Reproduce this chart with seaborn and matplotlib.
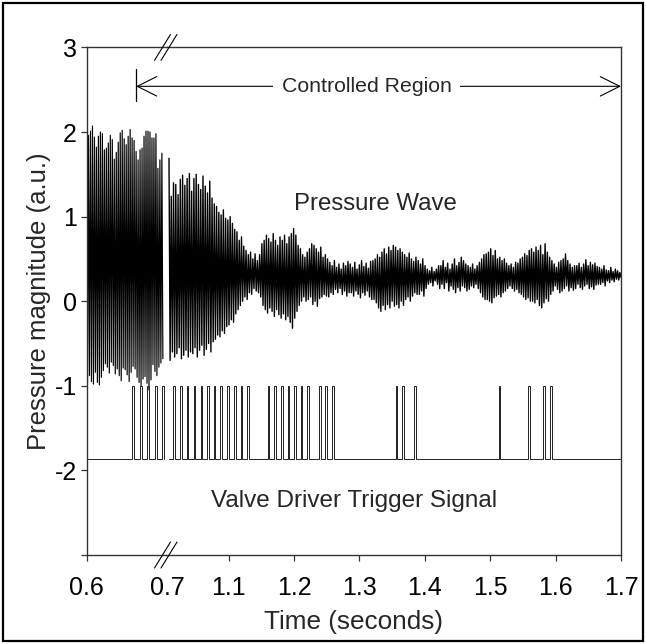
import numpy as np
import pandas as pd
import matplotlib
matplotlib.use("Agg")
import matplotlib.pyplot as plt
import seaborn as sns
from matplotlib.lines import Line2D
from matplotlib.patches import Rectangle

sns.set_theme(style="ticks")
plt.rcParams["font.family"] = ["Liberation Sans", "DejaVu Sans"]

# ---------------- data ----------------
left_time_range = (0.600, 0.695)     # seconds, before the axis break
right_time_range = (1.0087, 1.700)   # seconds, after the axis break

left_hi = [1.87, 1.96, 2.01, 2.07, 1.94, 1.82, 1.95, 2.00, 1.98, 1.79,
           1.81, 1.87, 1.96, 1.91, 1.68, 1.76, 1.88, 1.99, 2.02, 1.92,
           1.85, 1.95, 2.03, 1.93, 1.90, 1.77, 1.67, 1.79, 1.81, 1.95,
           2.01, 2.01, 2.00, 1.93, 1.93, 1.98, 1.57, 1.67, 1.75]
left_lo = [-0.97, -0.88, -0.95, -0.98, -0.84, -0.96, -0.99, -0.90, -0.82, -0.74,
           -0.78, -0.85, -0.72, -0.76, -0.86, -0.80, -0.88, -0.94, -0.79, -0.81,
           -0.87, -0.95, -0.84, -0.77, -0.80, -0.90, -0.96, -1.00, -0.92, -0.89,
           -0.97, -1.05, -0.93, -0.75, -0.83, -0.88, -0.78, -0.73, -0.68]

right_hi = [1.69, 1.24, 1.40, 1.38, 1.26, 1.44, 1.49, 1.37, 1.45, 1.51,
            1.30, 1.45, 1.50, 1.38, 1.32, 1.48, 1.36, 1.28, 1.42, 1.22,
            1.15, 1.12, 1.05, 1.02, 1.08, 0.98, 0.96, 1.00, 0.92, 0.85,
            0.82, 0.72, 0.76, 0.65, 0.60, 0.55, 0.58, 0.50, 0.56, 0.48,
            0.55, 0.68, 0.72, 0.78, 0.74, 0.70, 0.80, 0.72, 0.66, 0.76,
            0.72, 0.78, 0.68, 0.76, 0.80, 0.86, 0.78, 0.66, 0.62, 0.55,
            0.52, 0.58, 0.62, 0.68, 0.66, 0.62, 0.58, 0.64, 0.52, 0.55,
            0.50, 0.46, 0.42, 0.48, 0.40, 0.44, 0.38, 0.45, 0.42, 0.47,
            0.44, 0.40, 0.46, 0.38, 0.43, 0.48, 0.41, 0.45, 0.39, 0.47,
            0.48, 0.50, 0.55, 0.52, 0.58, 0.62, 0.56, 0.64, 0.60, 0.66,
            0.64, 0.60, 0.62, 0.58, 0.55, 0.52, 0.57, 0.50, 0.47, 0.52,
            0.48, 0.44, 0.50, 0.42, 0.38, 0.36, 0.40, 0.35, 0.38, 0.42,
            0.42, 0.48, 0.40, 0.45, 0.38, 0.44, 0.50, 0.42, 0.46, 0.52,
            0.48, 0.44, 0.42, 0.40, 0.44, 0.38, 0.42, 0.46, 0.50, 0.55,
            0.56, 0.58, 0.62, 0.54, 0.60, 0.50, 0.52, 0.48, 0.50, 0.45,
            0.42, 0.44, 0.40, 0.46, 0.45, 0.50, 0.52, 0.56, 0.54, 0.60,
            0.62, 0.58, 0.64, 0.60, 0.66, 0.55, 0.68, 0.58, 0.52, 0.48,
            0.44, 0.40, 0.46, 0.48, 0.50, 0.56, 0.48, 0.44, 0.40, 0.42,
            0.42, 0.45, 0.40, 0.44, 0.49, 0.42, 0.46, 0.43, 0.45, 0.41,
            0.40, 0.38, 0.42, 0.37, 0.36, 0.40, 0.35, 0.38, 0.36, 0.34]
right_lo = [-0.70, -0.60, -0.66, -0.62, -0.55, -0.68, -0.64, -0.58, -0.66, -0.60,
            -0.62, -0.55, -0.66, -0.58, -0.52, -0.64, -0.57, -0.50, -0.60, -0.48,
            -0.45, -0.40, -0.42, -0.35, -0.38, -0.30, -0.28, -0.22, -0.25, -0.15,
            -0.10, -0.05, 0.00, 0.05, 0.02, 0.10, 0.08, 0.15, 0.12, 0.10,
            0.05, -0.05, -0.10, -0.14, -0.08, -0.12, -0.18, -0.10, -0.16, -0.20,
            -0.15, -0.22, -0.18, -0.25, -0.32, -0.20, -0.12, -0.05, 0.00, 0.05,
            0.00, 0.02, 0.05, -0.04, 0.00, -0.06, 0.03, 0.05, 0.08, 0.06,
            0.05, 0.10, 0.08, 0.14, 0.10, 0.15, 0.08, 0.12, 0.06, 0.10,
            0.10, 0.06, 0.12, 0.08, 0.04, 0.10, 0.07, 0.12, 0.05, 0.02,
            0.02, -0.02, -0.08, -0.12, -0.05, -0.10, -0.04, -0.08, 0.00, -0.06,
            -0.04, -0.08, 0.00, -0.05, 0.02, 0.05, 0.00, 0.06, 0.10, 0.08,
            0.08, 0.12, 0.06, 0.15, 0.20, 0.22, 0.18, 0.24, 0.20, 0.15,
            0.20, 0.15, 0.22, 0.12, 0.18, 0.14, 0.10, 0.16, 0.12, 0.18,
            0.16, 0.12, 0.14, 0.18, 0.16, 0.20, 0.15, 0.10, 0.05, 0.02,
            0.02, 0.00, -0.02, 0.04, 0.06, 0.08, 0.05, 0.10, 0.12, 0.15,
            0.18, 0.15, 0.12, 0.14, 0.10, 0.08, 0.05, 0.02, 0.04, 0.00,
            0.00, -0.02, 0.02, -0.05, -0.08, -0.02, 0.03, 0.00, 0.08, 0.12,
            0.18, 0.14, 0.10, 0.12, 0.15, 0.18, 0.12, 0.16, 0.13, 0.15,
            0.20, 0.16, 0.14, 0.18, 0.20, 0.15, 0.17, 0.14, 0.19, 0.20,
            0.20, 0.22, 0.18, 0.24, 0.22, 0.25, 0.23, 0.26, 0.25, 0.28]

pulse_left = [0.6565, 0.6665, 0.6754, 0.6856, 0.6940]
pulse_right = [1.0148, 1.0255, 1.0356, 1.0465, 1.0572, 1.0673, 1.0772, 1.0873,
               1.0980, 1.1081, 1.1182, 1.1283,
               1.1598, 1.1699, 1.1800, 1.1901, 1.2002, 1.2102, 1.2203,
               1.2385, 1.2480, 1.2581,
               1.3552, 1.3651, 1.3835,
               1.5127, 1.5580, 1.5806, 1.5913]
pulse_width = 0.0025
trigger_low = -1.86
trigger_high = -1.00

left_ticks = [0.6, 0.7]
left_ticklabels = ["0.6", "0.7"]
right_ticks = [1.1, 1.2, 1.3, 1.4, 1.5, 1.6, 1.7]
right_ticklabels = ["1.1", "1.2", "1.3", "1.4", "1.5", "1.6", "1.7"]
y_ticks = [-3, -2, -1, 0, 1, 2, 3]
y_ticklabels = ["", "-2", "-1", "0", "1", "2", "3"]

controlled_start = 0.6616
controlled_end = 1.7


def wave_frame(hi, lo, t0, t1):
    n = len(hi)
    step = (t1 - t0) / (2 * n - 1)
    t = t0 + np.arange(2 * n) * step
    y = np.empty(2 * n)
    y[0::2] = hi
    y[1::2] = lo
    return pd.DataFrame({"t": t, "p": y})


def trigger_frame(pulses, t0, t1):
    xs, ys = [t0], [trigger_low]
    for p in pulses:
        xs += [p, p, p + pulse_width, p + pulse_width]
        ys += [trigger_low, trigger_high, trigger_high, trigger_low]
    xs.append(t1)
    ys.append(trigger_low)
    return pd.DataFrame({"t": xs, "v": ys})


# ---------------- figure ----------------
W, H = 646, 644
fig = plt.figure(figsize=(W / 100, H / 100), dpi=100)
fig.patch.set_facecolor("white")

bottom = 1 - 555 / H
height = (555 - 47.4) / H
ax_l = fig.add_axes([86.5 / W, bottom, 80.4 / W, height])
ax_r = fig.add_axes([166.9 / W, bottom, 454.1 / W, height])

for ax in (ax_l, ax_r):
    ax.set_facecolor("white")
    ax.set_ylim(-3, 3)
    for s in ax.spines.values():
        s.set_color("#333333")
        s.set_linewidth(1.0)
    ax.tick_params(axis="both", direction="out", length=4, width=0.9,
                   color="#333333", labelsize=18, labelcolor="black")
    ax.tick_params(axis="x", pad=11)
    ax.tick_params(axis="y", pad=3)

# pressure wave
sns.lineplot(data=wave_frame(left_hi, left_lo, *left_time_range), x="t", y="p",
             sort=False, estimator=None, color="black", linewidth=0.85, ax=ax_l)
sns.lineplot(data=wave_frame(right_hi, right_lo, *right_time_range), x="t", y="p",
             sort=False, estimator=None, color="black", linewidth=1.0, ax=ax_r)

# valve trigger
sns.lineplot(data=trigger_frame(pulse_left, left_time_range[0], 0.697), x="t", y="v",
             sort=False, estimator=None, color="#222222", linewidth=0.7, ax=ax_l)
sns.lineplot(data=trigger_frame(pulse_right, right_time_range[0], right_time_range[1]),
             x="t", y="v", sort=False, estimator=None, color="#222222",
             linewidth=0.7, ax=ax_r)

ax_l.set_xlim(0.6, 0.7)
ax_r.set_xlim(1.1 - 61.8 / 654, 1.7)
ax_l.spines["right"].set_visible(False)
ax_r.spines["left"].set_visible(False)
ax_l.set_xticks(left_ticks)
ax_l.set_xticklabels(left_ticklabels)
ax_l.xaxis.get_major_ticks()[1].tick1line.set_visible(False)
ax_l.set_yticks(y_ticks)
ax_l.set_yticklabels(y_ticklabels)
ax_r.set_xticks(right_ticks)
ax_r.set_xticklabels(right_ticklabels)
ax_r.set_yticks([])
for ax in (ax_l, ax_r):
    ax.set_xlabel("")
    ax.set_ylabel("")

# axis titles
fig.text(353.75 / W, 1 - 622 / H, "Time (seconds)", ha="center", va="center",
         fontsize=18.8)
fig.text(39 / W, 1 - 301.2 / H, "Pressure magnitude (a.u.)", ha="center",
         va="center", rotation=90, fontsize=18.5)

# in-plot labels
ax_r.text(1.325, 1.15, "Pressure Wave", ha="center", va="center", fontsize=17.3)
ax_r.text(1.292, -2.36, "Valve Driver Trigger Signal", ha="center", va="center",
          fontsize=17.5)

# controlled region arrow
ax_l.plot([controlled_start, controlled_start], [2.37, 2.75], color="black",
          linewidth=0.9, clip_on=False)
ax_r.annotate("", xy=(controlled_end, 2.54), xycoords=ax_r.transData,
              xytext=(controlled_start, 2.54), textcoords=ax_l.transData,
              arrowprops=dict(arrowstyle="<->,head_length=0.7,head_width=0.35",
                              color="black", linewidth=0.8, shrinkA=0, shrinkB=0,
                              mutation_scale=20))
ax_r.text(1.311, 2.54, "Controlled Region", ha="center", va="center",
          fontsize=15.3, bbox=dict(facecolor="white", edgecolor="none", pad=6))

# axis break marks
for y_mid in (47.4, 555):
    for dx in (0, 6.5):
        x0, x1 = 154.5 + dx, 170.5 + dx
        fig.add_artist(Line2D([x0 / W, x1 / W],
                              [1 - (y_mid + 13) / H, 1 - (y_mid - 13) / H],
                              transform=fig.transFigure, color="black",
                              linewidth=0.8))

# outer frame
fig.add_artist(Rectangle((3 / W, 3 / H), 1 - 6 / W, 1 - 6 / H,
                         transform=fig.transFigure, fill=False,
                         edgecolor="black", linewidth=1.6))

fig.savefig("out.png", dpi=100, facecolor="white")
